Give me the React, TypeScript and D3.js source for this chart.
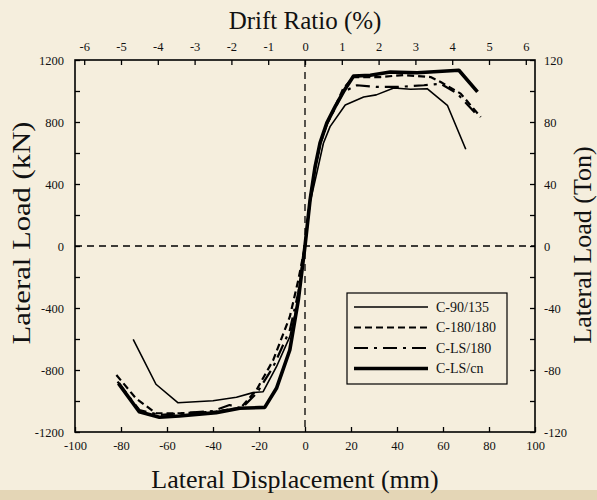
import { useEffect, useRef } from "react";
import * as d3 from "d3";

// series: [displacement mm, load kN]
const c90_135: [number, number][] = [
  [-74.7, -602], [-64.8, -892], [-55.3, -1011], [-40, -998], [-29.8, -976],
  [-22.6, -946], [-18.2, -940], [-12.4, -779], [-6.6, -585], [-2.9, -348],
  [0, 0], [2.2, 280], [5.1, 469], [8, 663], [10.9, 770], [17.5, 910],
  [25.5, 961], [31, 975], [38.6, 1019], [45.9, 1011], [53.1, 1015],
  [61.9, 908], [69.9, 624],
];
const c180_180: [number, number][] = [
  [-82, -832], [-73.5, -983], [-64.8, -1079], [-54.6, -1079], [-40, -1070],
  [-28, -1045], [-21.1, -929], [-13.8, -735], [-6.6, -456], [-2.9, -219],
  [0, 0], [2.2, 300], [4.4, 510], [6.6, 660], [9.5, 790], [13.1, 900],
  [16.6, 1015], [21, 1090], [32.8, 1090], [42.8, 1103], [54.6, 1090],
  [59, 1058], [67.7, 983], [76.4, 832],
];
const cLS_180: [number, number][] = [
  [-81.5, -875], [-72, -1058], [-63.3, -1090], [-50, -1075], [-40, -1065],
  [-32.8, -1026], [-27.6, -1047], [-21, -950], [-13.8, -779], [-6.6, -542],
  [-2.9, -300], [0, 0], [2.2, 295], [4.4, 505], [6.6, 655], [9.5, 785],
  [13.1, 890], [16.6, 994], [22.6, 1037], [31.3, 1026], [40, 1026],
  [51.7, 1037], [59, 1047], [66.2, 983], [75, 843],
];
const cLS_cn: [number, number][] = [
  [-81.1, -886], [-72.1, -1069], [-63.3, -1105], [-54.6, -1097],
  [-38.6, -1075], [-28.4, -1047], [-17.5, -1041], [-12.4, -918],
  [-6.6, -671], [-2.9, -348], [0, 0], [2.2, 297], [4.4, 512], [6.55, 665],
  [9.5, 794], [13.1, 899], [16.7, 995], [21.1, 1097], [28.4, 1101],
  [37.1, 1123], [48.8, 1118], [66.9, 1134], [75, 994],
];

const seriesNames = ["C-90/135", "C-180/180", "C-LS/180", "C-LS/cn"];
const seriesData = [c90_135, c180_180, cLS_180, cLS_cn];
const seriesWidth = [1.6, 2.2, 2.2, 3.6];
const seriesDash = ["", "7,4", "14,6,3,6", ""];

const dispTicks = d3.range(-100, 101, 20);
const driftTicks = d3.range(-6, 7, 1);
const kNTicks = d3.range(-1200, 1201, 200);
const tonTicks = d3.range(-120, 121, 20);

const font = "'Liberation Serif', 'Times New Roman', serif";

export default function App() {
  const ref = useRef<SVGSVGElement>(null);

  useEffect(() => {
    if (!ref.current) return;
    const svg = d3.select(ref.current);
    svg.selectAll("*").remove();

    const W = 597;
    const H = 500;
    const left = 75, right = 535, top = 60, bottom = 432;

    svg.append("rect").attr("width", W).attr("height", H).attr("fill", "#f5eedd");
    svg.append("rect").attr("y", 490).attr("width", W).attr("height", 10).attr("fill", "#e4d6b6");

    const x = d3.scaleLinear().domain([-100, 100]).range([left, right]);
    const xTop = d3.scaleLinear().domain([-100 / 16, 100 / 16]).range([left, right]);
    const y = d3.scaleLinear().domain([-1200, 1200]).range([bottom, top]);
    const yTon = d3.scaleLinear().domain([-120, 120]).range([bottom, top]);

    const styleAxis = (g: d3.Selection<SVGGElement, unknown, null, undefined>) => {
      g.select(".domain").remove();
      g.selectAll("line").attr("stroke", "#000").attr("stroke-width", 1.3);
      g.selectAll("text")
        .attr("fill", "#111")
        .style("font-family", font)
        .style("font-size", "12.5px");
    };

    svg.append("g")
      .attr("transform", `translate(0,${bottom})`)
      .call(d3.axisBottom(x).tickValues(dispTicks).tickSize(-5).tickPadding(9).tickSizeOuter(0)
        .tickFormat((d) => String(d)))
      .call(styleAxis);

    svg.append("g")
      .attr("transform", `translate(0,${top})`)
      .call(d3.axisTop(xTop).tickValues(driftTicks).tickSize(-5).tickPadding(9).tickSizeOuter(0)
        .tickFormat((d) => String(d)))
      .call(styleAxis);

    svg.append("g")
      .attr("transform", `translate(${left},0)`)
      .call(
        d3.axisLeft(y).tickValues(kNTicks).tickSize(-5).tickPadding(11).tickSizeOuter(0)
          .tickFormat((d) => ((d as number) % 400 === 0 ? String(d) : ""))
      )
      .call(styleAxis);

    svg.append("g")
      .attr("transform", `translate(${right},0)`)
      .call(
        d3.axisRight(yTon).tickValues(tonTicks).tickSize(-5).tickPadding(9).tickSizeOuter(0)
          .tickFormat((d) => ((d as number) % 40 === 0 ? String(d) : ""))
      )
      .call(styleAxis);

    // frame
    svg.append("rect")
      .attr("x", left).attr("y", top)
      .attr("width", right - left).attr("height", bottom - top)
      .attr("fill", "none").attr("stroke", "#000").attr("stroke-width", 1.6);

    // zero lines
    svg.append("line")
      .attr("x1", x(0)).attr("x2", x(0)).attr("y1", top).attr("y2", bottom)
      .attr("stroke", "#000").attr("stroke-width", 1.3).attr("stroke-dasharray", "7,5");
    svg.append("line")
      .attr("x1", left).attr("x2", right).attr("y1", y(0)).attr("y2", y(0))
      .attr("stroke", "#000").attr("stroke-width", 1.3).attr("stroke-dasharray", "7,5");

    const line = d3.line<[number, number]>().x((d) => x(d[0])).y((d) => y(d[1]));

    seriesData.forEach((data, i) => {
      svg.append("path")
        .datum(data)
        .attr("fill", "none")
        .attr("stroke", "#000")
        .attr("stroke-width", seriesWidth[i])
        .attr("stroke-dasharray", seriesDash[i])
        .attr("stroke-linejoin", "round")
        .attr("d", line);
    });

    // legend
    const lg = svg.append("g").attr("transform", "translate(347,293)");
    lg.append("rect").attr("width", 160).attr("height", 91)
      .attr("fill", "#f5eedd").attr("stroke", "#000").attr("stroke-width", 1.2);
    seriesNames.forEach((name, i) => {
      const yy = 14 + i * 20.5;
      lg.append("line")
        .attr("x1", 7).attr("x2", 81).attr("y1", yy).attr("y2", yy)
        .attr("stroke", "#000").attr("stroke-width", seriesWidth[i])
        .attr("stroke-dasharray", seriesDash[i]);
      lg.append("text")
        .attr("x", 89).attr("y", yy + 4.5)
        .style("font-family", font).style("font-size", "14px")
        .attr("fill", "#111")
        .text(name);
    });

    // titles
    svg.append("text")
      .attr("x", x(0)).attr("y", 29).attr("text-anchor", "middle")
      .style("font-family", font).style("font-size", "25px").attr("fill", "#111")
      .text("Drift Ratio (%)");
    svg.append("text")
      .attr("x", x(0) - 10).attr("y", 488).attr("text-anchor", "middle")
      .style("font-family", font).style("font-size", "26px").attr("fill", "#111")
      .text("Lateral Displacement (mm)");
    svg.append("text")
      .attr("transform", `translate(30,233) rotate(-90)`).attr("text-anchor", "middle")
      .attr("textLength", 223).attr("lengthAdjust", "spacingAndGlyphs")
      .style("font-family", font).style("font-size", "26px").attr("fill", "#111")
      .text("Lateral Load (kN)");
    svg.append("text")
      .attr("transform", `translate(591,245) rotate(-90)`).attr("text-anchor", "middle")
      .style("font-family", font).style("font-size", "26px").attr("fill", "#111")
      .text("Lateral Load (Ton)");
  }, []);

  return (
    <svg
      ref={ref}
      width={597}
      height={500}
      style={{ position: "absolute", left: 0, top: 0, display: "block" }}
    />
  );
}
